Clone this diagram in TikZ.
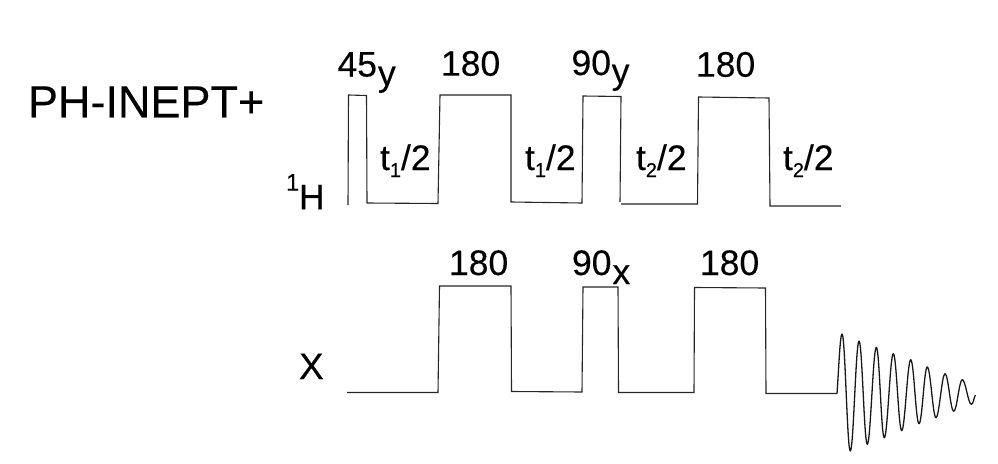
\documentclass[tikz,border=0pt]{standalone}
\usepackage{fontspec}
\setmainfont{Liberation Sans}[FakeBold=0.25]
\newcommand{\subt}[1]{t\raisebox{-7pt}{\fontsize{20}{20}\selectfont #1}/2}
\tikzset{
  x=1pt,y=-1pt,
  lab/.style={anchor=base west,inner sep=0pt,outer sep=0pt,font=\fontsize{35.5}{35.5}\selectfont,text=black},
  title/.style={lab,font=\fontsize{45}{45}\selectfont},
  small/.style={lab,font=\fontsize{24}{24}\selectfont},
  pulse/.style={draw=black!85,line width=1.1pt,line join=miter},
  fid/.style={draw=black!90,line width=1.3pt,line join=round}
}
\begin{document}
\begin{tikzpicture}
\useasboundingbox (0,0) rectangle (998,463);
% pulse trains
\draw[pulse] (348,205) -- (348.5,95) -- (366.5,95.5) -- (367,203) -- (438,203.5) -- (440,95) -- (511,95) -- (511,202) -- (582,203) -- (583,96) -- (621,96.5) -- (620,202);
\draw[pulse] (621,204) -- (697.5,204) -- (698.5,97) -- (769,98) -- (770,206) -- (841,206);
\draw[pulse] (347,392.5) -- (438,392.5) -- (439.5,286) -- (511,286) -- (511.5,391.5) -- (582,392) -- (583,287) -- (618,287) -- (618.5,392.5) -- (694,392.5) -- (694.5,287.5) -- (765.5,288) -- (766,393.5) -- (837,393.5);
% FID
\draw[fid] (837,393.5) .. controls +(1.5,-20) and +(-2,0) .. (842,334)
 .. controls +(3.2,0) and +(-3.2,0) .. (850.3,451)
 .. controls +(3.2,0) and +(-3.2,0) .. (859,341)
 .. controls +(3.2,0) and +(-3.2,0) .. (867.3,444.3)
 .. controls +(3.2,0) and +(-3.2,0) .. (876.3,347.3)
 .. controls +(3.2,0) and +(-3.2,0) .. (884.3,437.7)
 .. controls +(3.2,0) and +(-3.2,0) .. (893.3,353.7)
 .. controls +(3.2,0) and +(-3.2,0) .. (901.7,430.7)
 .. controls +(3.2,0) and +(-3.2,0) .. (910.7,359.7)
 .. controls +(3.2,0) and +(-3.2,0) .. (919,423.7)
 .. controls +(3.2,0) and +(-3.2,0) .. (927.3,367)
 .. controls +(3.2,0) and +(-3.2,0) .. (936,417.7)
 .. controls +(3.2,0) and +(-3.2,0) .. (945,373.7)
 .. controls +(3.2,0) and +(-3.2,0) .. (953.7,411.3)
 .. controls +(3.2,0) and +(-3.2,0) .. (962.3,379.7)
 .. controls +(3.2,0) and +(-3.2,0) .. (971.3,404.3)
 .. controls +(2,0) and +(-1.5,3) .. (975.3,395);
% labels
\node[title] (t) at (28,117.3) {PH-INEPT+};
\node[lab] (a45) at (337.5,76.5) {45};
\node[lab] (ay) at (378,85.5) {y};
\node[lab] (h180a) at (441,75.7) {180};
\node[lab] (h90) at (571.5,75) {90};
\node[lab] (hy) at (611.7,83.5) {y};
\node[lab] (h180b) at (696,76.7) {180};
\node[lab] (d1) at (380,170) {\subt{1}};
\node[lab] (d2) at (525,170) {\subt{1}};
\node[lab] (d3) at (636,170) {\subt{2}};
\node[lab] (d4) at (783,170) {\subt{2}};
\node[small] (one) at (286,190.7) {1};
\node[lab] (hh) at (299,209.3) {H};
\node[lab,font=\fontsize{37}{37}\selectfont] (xx) at (299,379) {X};
\node[lab] (x180a) at (449,275) {180};
\node[lab] (x90) at (572,275) {90};
\node[lab] (xs) at (612.5,284) {x};
\node[lab] (x180b) at (700,275) {180};
\end{tikzpicture}
\end{document}
